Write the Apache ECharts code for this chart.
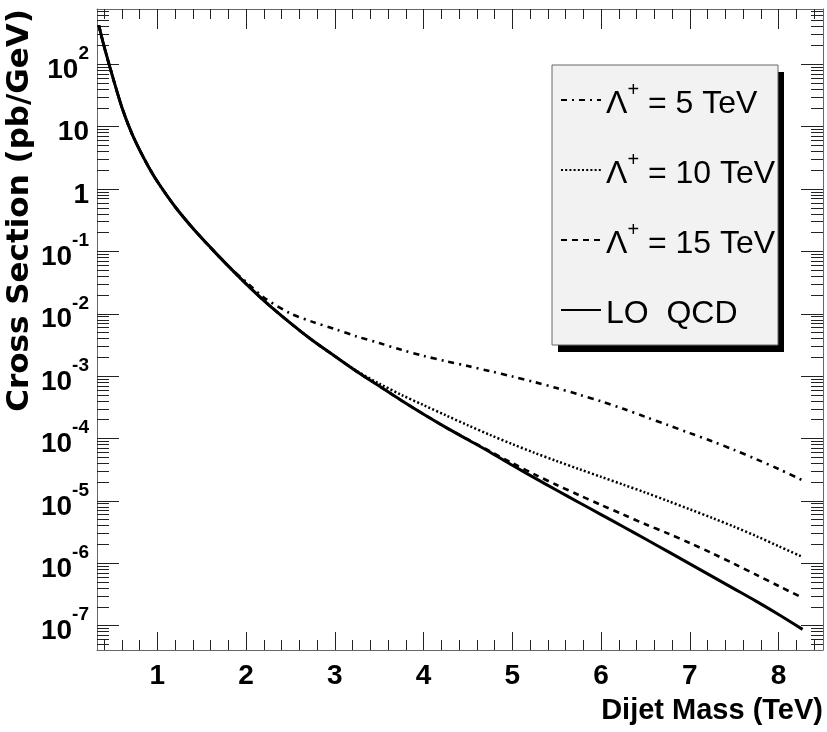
<!DOCTYPE html>
<html>
<head>
<meta charset="utf-8">
<script src="https://cdn.jsdelivr.net/npm/echarts@6/dist/echarts.min.js"></script>
<style>
html,body{margin:0;padding:0;background:#fff;}
#chart{width:827px;height:732px;}
</style>
</head>
<body>
<div id="chart"></div>
<script>
// Dijet mass (TeV)
const massTeV = [0.34, 0.4, 0.45, 0.5, 0.6, 0.7, 0.8, 0.9, 1.0, 1.2, 1.4, 1.6, 1.8, 2.0, 2.2, 2.5, 2.75, 3.0, 3.25, 3.5, 3.75, 4.0, 4.25, 4.5, 4.75, 5.0, 5.25, 5.5, 5.75, 6.0, 6.25, 6.5, 6.75, 7.0, 7.25, 7.5, 7.75, 8.0, 8.27];
// Cross section (pb/GeV)
const qcdLO = [422, 193, 107, 60.4, 20.5, 8.57, 4.23, 2.28, 1.32, 0.520, 0.235, 0.115, 0.0581, 0.0302, 0.0163, 7.08e-3, 3.72e-3, 2.09e-3, 1.18e-3, 6.92e-4, 4.07e-4, 2.45e-4, 1.51e-4, 9.55e-5, 6.03e-5, 3.72e-5, 2.34e-5, 1.48e-5, 9.44e-6, 6.03e-6, 3.85e-6, 2.45e-6, 1.55e-6, 9.77e-7, 6.17e-7, 3.89e-7, 2.45e-7, 1.51e-7, 8.71e-8];
const lambda5 = [422, 193, 107, 60.4, 20.5, 8.57, 4.23, 2.28, 1.32, 0.520, 0.235, 0.115, 0.0581, 0.0324, 0.0182, 0.0101, 7.41e-3, 5.69e-3, 4.31e-3, 3.39e-3, 2.64e-3, 2.11e-3, 1.74e-3, 1.45e-3, 1.20e-3, 9.89e-4, 8.04e-4, 6.43e-4, 5.07e-4, 3.94e-4, 2.99e-4, 2.22e-4, 1.65e-4, 1.22e-4, 9.02e-5, 6.56e-5, 4.65e-5, 3.24e-5, 2.14e-5];
const lambda10 = [422, 193, 107, 60.4, 20.5, 8.57, 4.23, 2.28, 1.32, 0.520, 0.235, 0.115, 0.0581, 0.0302, 0.0163, 7.08e-3, 3.72e-3, 2.09e-3, 1.20e-3, 7.59e-4, 5.01e-4, 3.43e-4, 2.36e-4, 1.63e-4, 1.14e-4, 8.13e-5, 5.89e-5, 4.35e-5, 3.24e-5, 2.43e-5, 1.82e-5, 1.36e-5, 1.0e-5, 7.33e-6, 5.35e-6, 3.85e-6, 2.72e-6, 1.88e-6, 1.26e-6];
const lambda15 = [422, 193, 107, 60.4, 20.5, 8.57, 4.23, 2.28, 1.32, 0.520, 0.235, 0.115, 0.0581, 0.0302, 0.0163, 7.08e-3, 3.72e-3, 2.09e-3, 1.18e-3, 6.92e-4, 4.07e-4, 2.45e-4, 1.51e-4, 9.66e-5, 6.21e-5, 4.03e-5, 2.66e-5, 1.80e-5, 1.24e-5, 8.61e-6, 6.03e-6, 4.22e-6, 3.02e-6, 2.11e-6, 1.45e-6, 9.77e-7, 6.53e-7, 4.32e-7, 2.79e-7];

const seriesNames = ['Λ+ = 5 TeV', 'Λ+ = 10 TeV', 'Λ+ = 15 TeV', 'LO  QCD'];
const xMajorTicks = [1, 2, 3, 4, 5, 6, 7, 8];
const yMajorTicks = [1e-7, 1e-6, 1e-5, 1e-4, 1e-3, 1e-2, 1e-1, 1, 10, 100];

const X_MIN = 0.32, X_MAX = 8.5;
const Y_MIN = 4.07e-8, Y_MAX = 769;

const xMinorTicks = [];
for (let k = 2; k <= 42; k++) { if (k % 5 !== 0) xMinorTicks.push(Number((k / 5).toFixed(1))); }
const yMinorTicks = [];
for (let e = -8; e <= 2; e++) {
  for (let k = 2; k <= 9; k++) {
    const v = Number(k + 'e' + e);
    if (v >= Y_MIN && v <= Y_MAX) yMinorTicks.push(v);
  }
}

const SANS = "'Liberation Sans', Arial, sans-serif";
const AXIS_COLOR = '#666';
const TICK_COLOR = '#222';

function xAxisDef(pos, ticks, len, showLine, label, name) {
  const a = {
    type: 'value', min: X_MIN, max: X_MAX, position: pos, gridIndex: 0,
    axisLine: { show: showLine, onZero: false, lineStyle: { color: AXIS_COLOR, width: 1 } },
    axisTick: { show: true, inside: true, length: len, customValues: ticks, lineStyle: { color: TICK_COLOR, width: 1 } },
    axisLabel: { show: false },
    splitLine: { show: false }
  };
  if (label) {
    a.axisLabel = { show: true, customValues: ticks, margin: 12, color: '#000',
      fontFamily: SANS, fontSize: 28, fontWeight: 'bold' };
  }
  if (name) {
    a.name = name; a.nameLocation = 'end'; a.nameGap = 0;
    a.nameTextStyle = { align: 'right', verticalAlign: 'top', padding: [46, 0, 0, 0],
      fontFamily: SANS, fontSize: 29, fontWeight: 'bold', color: '#000' };
  }
  return a;
}
function yAxisDef(pos, ticks, len, showLine, label, name) {
  const a = {
    type: 'log', logBase: 10, min: Y_MIN, max: Y_MAX, position: pos, gridIndex: 0,
    axisLine: { show: showLine, onZero: false, lineStyle: { color: AXIS_COLOR, width: 1 } },
    axisTick: { show: true, inside: true, length: len, customValues: ticks, lineStyle: { color: TICK_COLOR, width: 1 } },
    axisLabel: { show: false },
    splitLine: { show: false }
  };
  if (label) {
    a.axisLabel = {
      show: true, customValues: ticks, margin: 8, color: '#000',
      formatter: function (v) {
        const e = Math.round(Math.log10(v));
        if (e === 0) return '{b|1}';
        if (e === 1) return '{b|10}';
        return '{b|10}{sup|' + e + '}';
      },
      rich: {
        b: { fontFamily: SANS, fontSize: 28, fontWeight: 'bold', lineHeight: 40, verticalAlign: 'bottom', color: '#000' },
        sup: { fontFamily: SANS, fontSize: 19, fontWeight: 'bold', lineHeight: 20, verticalAlign: 'top', color: '#000' }
      }
    };
  }
  if (name) {
    a.name = name; a.nameLocation = 'end'; a.nameGap = 0; a.nameRotate = 90;
    a.nameTextStyle = { align: 'right', verticalAlign: 'bottom', padding: [0, 0, 62, 0],
      fontFamily: "'DejaVu Sans', sans-serif", fontSize: 31, fontWeight: 'bold', color: '#000' };
  }
  return a;
}

const chart = echarts.init(document.getElementById('chart'), null, { renderer: 'canvas' });

function pairs(ys) { return massTeV.map((m, i) => [m, ys[i]]); }

const option = {
  animation: false,
  backgroundColor: '#fff',
  grid: { left: 97, top: 9, width: 726, height: 641, containLabel: false, outerBoundsMode: 'none' },
  xAxis: [
    xAxisDef('bottom', xMajorTicks, 18, true, true, 'Dijet Mass (TeV)'),
    xAxisDef('bottom', xMinorTicks, 10, false, false, null),
    xAxisDef('top', xMajorTicks, 20, true, false, null),
    xAxisDef('top', xMinorTicks, 10, false, false, null)
  ],
  yAxis: [
    yAxisDef('left', yMajorTicks, 22, true, true, 'Cross Section (pb/GeV)'),
    yAxisDef('left', yMinorTicks, 12, false, false, null),
    yAxisDef('right', yMajorTicks, 22, true, false, null),
    yAxisDef('right', yMinorTicks, 12, false, false, null)
  ],
  // legend frame: drop shadow + light grey box
  graphic: [
    { type: 'rect', z: 3, silent: true, shape: { x: 558, y: 72, width: 226, height: 280 }, style: { fill: '#000' } },
    { type: 'rect', z: 3, silent: true, shape: { x: 552, y: 65, width: 226, height: 280 }, style: { fill: '#f2f2f2', stroke: '#666', lineWidth: 1 } }
  ],
  legend: {
    data: seriesNames,
    orient: 'vertical',
    left: 552, top: 65,
    itemWidth: 40, itemHeight: 14, itemGap: 30, itemTextGap: 7,
    padding: [15, 2, 15, 8],
    backgroundColor: 'transparent', borderWidth: 0,
    selectedMode: false,
    itemStyle: { color: 'rgba(0,0,0,0)', borderColor: 'rgba(0,0,0,0)', borderWidth: 0 },
    formatter: function (name) {
      if (name.indexOf('Λ+') === 0) return '{t|Λ}{s|+}{t|' + name.slice(2) + '}';
      return '{t|' + name + '}';
    },
    textStyle: {
      fontFamily: SANS, fontSize: 32, color: '#000', lineHeight: 40,
      rich: {
        t: { fontFamily: SANS, fontSize: 32, lineHeight: 40, verticalAlign: 'bottom', color: '#000' },
        s: { fontFamily: SANS, fontSize: 20, lineHeight: 22, verticalAlign: 'top', color: '#000' }
      }
    }
  },
  series: [
    { name: seriesNames[3], type: 'line', xAxisIndex: 0, yAxisIndex: 0, data: pairs(qcdLO), symbol: 'none', smooth: 0.3,
      lineStyle: { color: '#000', width: 3, type: 'solid' }, itemStyle: { color: '#000' }, z: 2 },
    { name: seriesNames[2], type: 'line', xAxisIndex: 0, yAxisIndex: 0, data: pairs(lambda15), symbol: 'none', smooth: 0.3,
      lineStyle: { color: '#000', width: 2.6, type: [6, 5] }, itemStyle: { color: '#000' }, z: 3 },
    { name: seriesNames[1], type: 'line', xAxisIndex: 0, yAxisIndex: 0, data: pairs(lambda10), symbol: 'none', smooth: 0.3,
      lineStyle: { color: '#000', width: 2.5, type: [2, 2.2] }, itemStyle: { color: '#000' }, z: 3 },
    { name: seriesNames[0], type: 'line', xAxisIndex: 0, yAxisIndex: 0, data: pairs(lambda5), symbol: 'none', smooth: 0.3,
      lineStyle: { color: '#000', width: 2.6, type: [6, 5, 2, 5] }, itemStyle: { color: '#000' }, z: 3 }
  ]
};
chart.setOption(option);
</script>
</body>
</html>
